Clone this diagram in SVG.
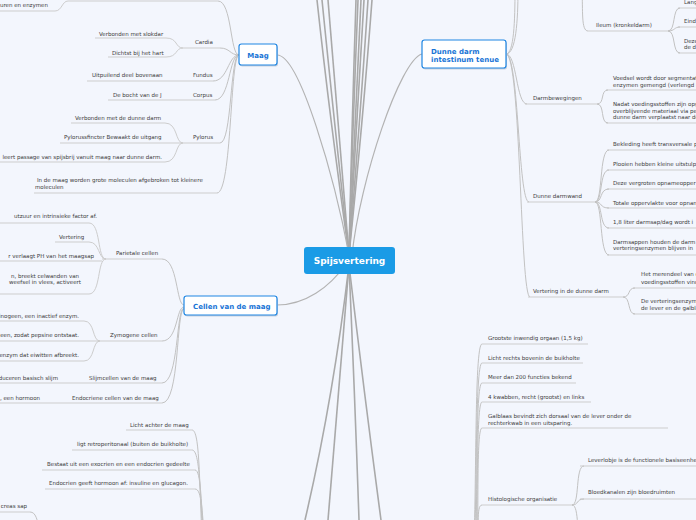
<svg xmlns="http://www.w3.org/2000/svg" width="696" height="520" viewBox="0 0 696 520">
<style>
.t{font-family:"DejaVu Sans",Verdana,sans-serif;font-size:5.5px;fill:#3c3c3c}
.e{text-anchor:end}
.u{stroke:#cdcdcd;stroke-width:1;fill:none}
.c{stroke:#c2c2c2;stroke-width:1;fill:none}
.m{stroke:#a9a9a9;stroke-width:1.6;fill:none}
.b{stroke:#b3b3b3;stroke-width:1.2;fill:none}
.nb{fill:#ffffff;stroke:#1e86e3;stroke-width:1.2}
.sh{fill:#c9d1de}
.nl{font-family:"DejaVu Sans",Verdana,sans-serif;font-weight:bold;font-size:7px;fill:#1874d6}
.cl{font-family:"DejaVu Sans",Verdana,sans-serif;font-weight:bold;font-size:9px;fill:#ffffff;text-anchor:middle}
</style>
<rect width="696" height="520" fill="#f3f6fd"/>
<g id="connectors">
<path class="m" d="M349,255 Q330,120 317,0"/>
<path class="m" d="M349,255 Q334,120 322,0"/>
<path class="m" d="M349,255 Q338,120 328,0"/>
<path class="m" d="M349,255 Q352,120 356,0"/>
<path class="m" d="M349,255 Q353,120 358,0"/>
<path class="m" d="M349,255 Q355,120 361,0"/>
<path class="m" d="M349,255 Q357,120 364,0"/>
<path class="m" d="M349,255 Q360,120 368,0"/>
<path class="m" d="M349,255 Q363,120 372,0"/>
<path class="m" d="M349,265 Q333,400 305,520"/>
<path class="m" d="M349,265 Q338,400 328,520"/>
<path class="m" d="M349,265 Q355,400 359,520"/>
<path class="m" d="M349,265 Q365,400 381,520"/>
<path class="b" d="M277,55 C300,55 335,180 349,255"/>
<path class="b" d="M422,54 C400,60 360,180 352,255"/>
<path class="b" d="M277,305 C305,305 330,287 345,265"/>
<path class="u" d="M0,11 L55,11 C62,11 62,1 68,1 L218,1"/>
<path class="c" d="M218,1 C232,1 230,55 239,55"/>
<path class="u" d="M95,38 L166,38 C178,38 175,48 183,48 L220,48"/>
<path class="u" d="M108,57 L166,57 C178,57 175,48 183,48"/>
<path class="c" d="M220,48 C230,48 230,55 239,55"/>
<path class="u" d="M87,81 L213,81"/>
<path class="c" d="M213,81 C228,81 228,55 239,55"/>
<path class="u" d="M108,100 L215,100"/>
<path class="c" d="M215,100 C230,100 229,55 239,55"/>
<path class="u" d="M71,123 L165,123 C178,123 175,143 183,143"/>
<path class="u" d="M60,143 L220,143"/>
<path class="u" d="M0,162 L165,162 C178,162 175,143 183,143"/>
<path class="c" d="M220,143 C232,143 230,55 239,55"/>
<path class="u" d="M34,193 L217,193"/>
<path class="c" d="M217,193 C232,193 230,55 239,55"/>
<path class="u" d="M0,223 L89,223 C101,223 97,259 106,259"/>
<path class="u" d="M55,242 L89,242 C100,242 98,259 106,259"/>
<path class="u" d="M0,261 L102,261"/>
<path class="u" d="M0,294 L89,294 C101,294 97,259 106,259"/>
<path class="u" d="M102,259 L162,259"/>
<path class="c" d="M162,259 C178,259 176,305 184,305"/>
<path class="u" d="M0,321 L84,321 C95,321 92,341 100,341"/>
<path class="u" d="M0,341 L162,341"/>
<path class="u" d="M0,361 L84,361 C95,361 92,341 100,341"/>
<path class="c" d="M162,341 C178,341 176,307 184,307"/>
<path class="u" d="M0,383 L162,383"/>
<path class="c" d="M162,383 C179,383 176,308 184,308"/>
<path class="u" d="M0,403 L162,403"/>
<path class="c" d="M162,403 C180,403 176,309 184,309"/>
<path class="u" d="M126,430 L192,430"/>
<path class="c" d="M192,430 C200,430 199,480 203,560"/>
<path class="u" d="M72,450 L192,450"/>
<path class="c" d="M192,450 C200,450 200,490 204,560"/>
<path class="u" d="M42,470 L195,470"/>
<path class="c" d="M195,470 C201,470 201,500 205,560"/>
<path class="u" d="M45,489 L195,489"/>
<path class="c" d="M195,489 C202,489 202,510 206,560"/>
<path class="u" d="M0,512 L30,512"/>
<path class="c" d="M30,512 C36,512 37,520 40,530"/>
<path class="c" d="M506,54 C514,54 515,20 515,-10"/>
<path class="c" d="M506,54 C516,54 518,20 518,-10"/>
<path class="c" d="M506,54 C517,54 516,104 527,104"/>
<path class="c" d="M506,54 C519,54 518,202 529,202"/>
<path class="c" d="M506,54 C521,54 520,297 530,297"/>
<path class="u" d="M588,31 L668,31"/>
<path class="c" d="M588,31 C581,31 583,10 582,-10"/>
<path class="u" d="M678,8 L696,8"/>
<path class="u" d="M678,27 L696,27"/>
<path class="u" d="M678,53 L696,53"/>
<path class="c" d="M668,31 C676,31 672,8 680,8"/>
<path class="c" d="M668,31 C675,31 674,27 680,27"/>
<path class="c" d="M668,31 C676,31 672,53 680,53"/>
<path class="u" d="M525,104 L597,104"/>
<path class="u" d="M606,90 L696,90"/>
<path class="u" d="M606,123 L696,123"/>
<path class="c" d="M597,104 C605,104 600,90 608,90"/>
<path class="c" d="M597,104 C605,104 600,123 608,123"/>
<path class="u" d="M527,202 L595,202"/>
<path class="u" d="M607,150 L696,150"/>
<path class="u" d="M607,170 L696,170"/>
<path class="u" d="M607,189 L696,189"/>
<path class="u" d="M607,208 L696,208"/>
<path class="u" d="M607,228 L696,228"/>
<path class="u" d="M607,255 L696,255"/>
<path class="c" d="M595,202 C603,202 599,150 609,150"/>
<path class="c" d="M595,202 C603,202 599,170 609,170"/>
<path class="c" d="M595,202 C603,202 599,189 609,189"/>
<path class="c" d="M595,202 C603,202 599,208 609,208"/>
<path class="c" d="M595,202 C603,202 599,228 609,228"/>
<path class="c" d="M595,202 C603,202 599,255 609,255"/>
<path class="u" d="M528,297 L623,297"/>
<path class="u" d="M633,288 L696,288"/>
<path class="u" d="M633,314 L696,314"/>
<path class="c" d="M623,297 C631,297 627,288 635,288"/>
<path class="c" d="M623,297 C631,297 627,314 635,314"/>
<path class="u" d="M482,344 L588,344"/>
<path class="u" d="M482,363 L583,363"/>
<path class="u" d="M482,383 L576,383"/>
<path class="u" d="M482,402 L591,402"/>
<path class="u" d="M482,428 L668,428"/>
<path class="u" d="M482,505 L572,505"/>
<path class="c" d="M482,344 C474,344 477,500 473,560"/>
<path class="c" d="M482,363 C475,363 477,505 474,560"/>
<path class="c" d="M482,383 C475,383 478,510 475,560"/>
<path class="c" d="M482,402 C476,402 478,515 476,560"/>
<path class="c" d="M482,428 C476,428 479,520 477,560"/>
<path class="c" d="M482,505 C476,505 479,530 478,560"/>
<path class="u" d="M580,466 L696,466"/>
<path class="u" d="M580,499 L696,499"/>
<path class="c" d="M572,505 C580,505 575,466 584,466"/>
<path class="c" d="M572,505 C579,505 576,499 584,499"/>
<path class="c" d="M572,505 C580,505 575,540 584,545"/>
</g>
<g id="n-maag-texts">
<text class="t e" x="48" y="7">uren en enzymen</text>
<text class="t" x="99" y="36">Verbonden met slokdar</text>
<text class="t" x="112" y="55">Dichtst bij het hart</text>
<text class="t" x="195" y="44">Cardia</text>
<text class="t" x="92" y="77">Uitpuilend deel bovenaan</text>
<text class="t" x="193" y="77">Fundus</text>
<text class="t" x="113" y="97">De bocht van de J</text>
<text class="t" x="193" y="97">Corpus</text>
<text class="t" x="75" y="120">Verbonden met de dunne darm</text>
<text class="t" x="64" y="139">Pylorussfincter Bewaakt de uitgang</text>
<text class="t" x="193" y="139">Pylorus</text>
<text class="t e" x="162" y="159">leert passage van spijsbrij vanuit maag naar dunne darm.</text>
<text class="t" x="37" y="182">In de maag worden grote moleculen afgebroken tot kleinere</text>
<text class="t" x="35" y="189">moleculen</text>
</g>
<g id="n-cellen-texts">
<text class="t e" x="97" y="218">utzuur en intrinsieke factor af.</text>
<text class="t" x="59" y="239">Vertering</text>
<text class="t e" x="94" y="258">r verlaagt PH van het maagsap</text>
<text class="t e" x="79" y="278">n, breekt celwanden van</text>
<text class="t e" x="81" y="284">weefsel in vlees, activeert</text>
<text class="t" x="116" y="255">Parietale cellen</text>
<text class="t e" x="79" y="318">inogeen, een inactief enzym.</text>
<text class="t e" x="79" y="337">een, zodat pepsine ontstaat.</text>
<text class="t" x="110" y="337">Zymogene cellen</text>
<text class="t e" x="79" y="357">enzym dat eiwitten afbreekt.</text>
<text class="t e" x="58" y="380">duceren basisch slijm</text>
<text class="t" x="89" y="380">Slijmcellen van de maag</text>
<text class="t e" x="40" y="400">, een hormoon</text>
<text class="t" x="72" y="400">Endocriene cellen van de maag</text>
</g>
<g id="n-pancreas-texts">
<text class="t" x="130" y="427">Licht achter de maag</text>
<text class="t" x="77" y="446">ligt retroperitonaal (buiten de buikholte)</text>
<text class="t" x="47" y="466">Bestaat uit een exocrien en een endocrien gedeelte</text>
<text class="t" x="49" y="485">Endocrien geeft hormoon af: insuline en glucagon.</text>
<text class="t e" x="27" y="508">creas sap</text>
</g>
<g id="n-dunne-texts">
<text class="t" x="596" y="27">Ileum (kronkeldarm)</text>
<text class="t" x="684" y="4">Lang</text>
<text class="t" x="684" y="23">Eind</text>
<text class="t" x="684" y="43">Deze</text>
<text class="t" x="684" y="49">de d</text>
<text class="t" x="533" y="100">Darmbewegingen</text>
<text class="t" x="613" y="80">Voedsel wordt door segmentati</text>
<text class="t" x="613" y="87">enzymen gemengd (verlengd -</text>
<text class="t" x="613" y="106">Nadat voedingsstoffen zijn opg</text>
<text class="t" x="613" y="113">overblijvende materiaal via pe</text>
<text class="t" x="613" y="119">dunne darm verplaatst naar de</text>
<text class="t" x="533" y="198">Dunne darmwand</text>
<text class="t" x="613" y="146">Bekleding heeft transversale p</text>
<text class="t" x="613" y="166">Plooien hebben kleine uitstulp</text>
<text class="t" x="613" y="185">Deze vergroten opnameopper</text>
<text class="t" x="613" y="205">Totale oppervlakte voor opnan</text>
<text class="t" x="613" y="224">1,8 liter darmsap/dag wordt i</text>
<text class="t" x="613" y="244">Darmsappen houden de darm</text>
<text class="t" x="613" y="250">verteringsenzymen blijven in</text>
<text class="t" x="533" y="293">Vertering in de dunne darm</text>
<text class="t" x="641" y="276">Het merendeel van d</text>
<text class="t" x="641" y="284">voedingsstoffen vinc</text>
<text class="t" x="641" y="303">De verteringsenzym</text>
<text class="t" x="641" y="310">de lever en de galbla</text>
</g>
<g id="n-lever-texts">
<text class="t" x="488" y="340">Grootste inwendig orgaan (1,5 kg)</text>
<text class="t" x="488" y="360">Licht rechts bovenin de buikholte</text>
<text class="t" x="488" y="379">Meer dan 200 functies bekend</text>
<text class="t" x="488" y="399">4 kwabben, recht (grootst) en links</text>
<text class="t" x="488" y="418">Galblaas bevindt zich dorsaal van de lever onder de</text>
<text class="t" x="488" y="425">rechterkwab in een uitsparing.</text>
<text class="t" x="488" y="501">Histologische organisatie</text>
<text class="t" x="588" y="462">Leverlobje is de functionele basiseenhe</text>
<text class="t" x="588" y="494">Bloedkanalen zijn bloedruimten</text>
</g>
<g id="node-maag">
<rect class="sh" x="240" y="45.5" width="38" height="21" rx="2.5"/>
<rect class="nb" x="239" y="44" width="38" height="21" rx="2.5"/>
<text class="nl" x="258" y="57.5" text-anchor="middle">Maag</text>
</g>
<g id="node-dunne-darm">
<rect class="sh" x="423" y="41.5" width="84" height="28" rx="2.5"/>
<rect class="nb" x="422" y="40" width="84" height="28" rx="2.5"/>
<text class="nl" x="431" y="53.5">Dunne darm</text>
<text class="nl" x="431" y="61.5">intestinum tenue</text>
</g>
<g id="node-cellen">
<rect class="sh" x="185" y="297.5" width="93" height="19" rx="2.5"/>
<rect class="nb" x="184" y="296" width="93" height="19" rx="2.5"/>
<text class="nl" x="193" y="308.5">Cellen van de maag</text>
</g>
<g id="node-center">
<rect x="304" y="247" width="91" height="27" rx="3" fill="#1a9be6"/>
<text class="cl" x="349.5" y="264">Spijsvertering</text>
</g>
</svg>
